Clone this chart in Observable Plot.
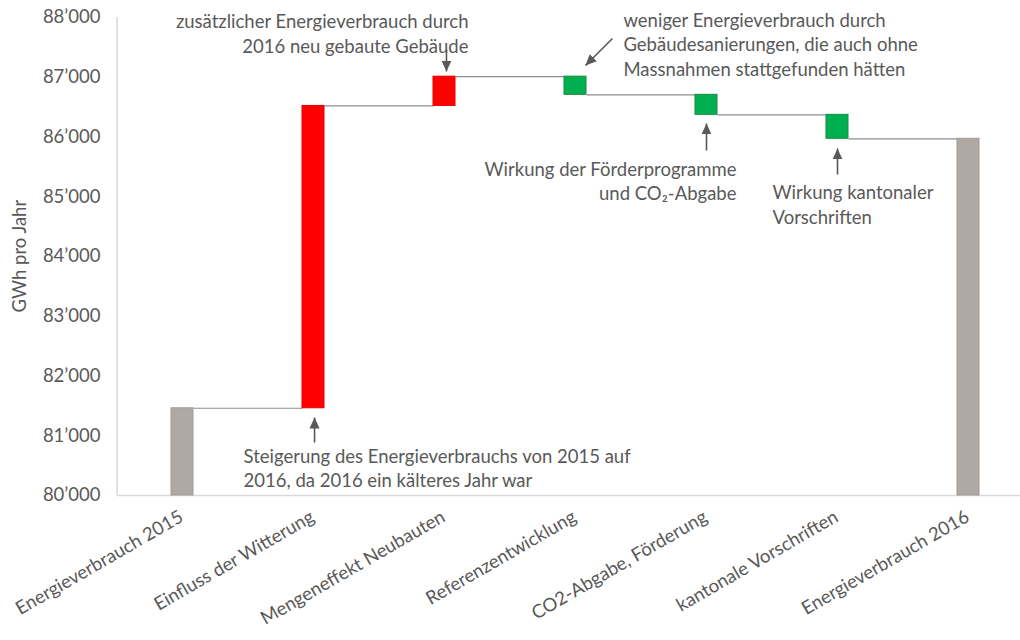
<!DOCTYPE html>
<html>
<head>
<meta charset="utf-8">
<script src="https://cdn.jsdelivr.net/npm/d3@7"></script>
<script src="https://cdn.jsdelivr.net/npm/@observablehq/plot@0.6"></script>
<style>
  html, body { margin: 0; padding: 0; background: #fff; }
  #chart svg { font-family: Lato, "Open Sans", sans-serif; }
</style>
</head>
<body>
<div id="chart"></div>
<script>
// ---- data ----
const categories = ["Energieverbrauch 2015", "Einfluss der Witterung", "Mengeneffekt Neubauten",
  "Referenzentwicklung", "CO2-Abgabe, Förderung", "kantonale Vorschriften", "Energieverbrauch 2016"];
const kinds = ["total", "increase", "increase", "decrease", "decrease", "decrease", "total"];
const amounts = [81460, 5060, 490, -304, -335, -401, 85970];
const yTicks = [80000, 81000, 82000, 83000, 84000, 85000, 86000, 87000, 88000];

const annTexts = [
  "zusätzlicher Energieverbrauch durch\n2016 neu gebaute Gebäude",
  "weniger Energieverbrauch durch\nGebäudesanierungen, die auch ohne\nMassnahmen stattgefunden hätten",
  "Wirkung der Förderprogramme\nund CO₂-Abgabe",
  "Wirkung kantonaler\nVorschriften",
  "Steigerung des Energieverbrauchs von 2015 auf\n2016, da 2016 ein kälteres Jahr war"
];
const annX = [2.183, 3.366, 4.229, 4.504, 0.466];
const annY = [87749, 87565, 85280, 84879, 80477];
const annAnchor = ["end", "start", "end", "start", "start"];

const arrowX1 = [2.015, 3.282, 4.0, 5.0, 1.008];
const arrowY1 = [87464, 87649, 85774, 85372, 80887];
const arrowX2 = [2.015, 3.076, 4.0, 5.0, 1.008];
const arrowY2 = [87096, 87197, 86226, 85808, 81305];

// ---- build table ----
const base = 80000;
let level = 0;
const rows = categories.map((c, i) => {
  let y1, y2;
  if (kinds[i] === "total") { y1 = base; y2 = amounts[i]; level = amounts[i]; }
  else { y1 = level; y2 = level + amounts[i]; level = y2; }
  return {i, c, kind: kinds[i], y1, y2, end: level};
});
const hw = 0.084; // half bar width in band units
const links = rows.slice(0, -1).map((r, k) => ({x1: r.i + hw, x2: rows[k + 1].i - hw, y: r.end}));
const anns = annTexts.map((t, k) => ({t, x: annX[k], y: annY[k], a: annAnchor[k]}));
const arrows = arrowX1.map((x, k) => ({x1: x, y1: arrowY1[k], x2: arrowX2[k], y2: arrowY2[k]}));

const fillOf = {total: "#afa8a3", increase: "#ff0000", decrease: "#00b050"};
const strokeOf = {total: "#a39b96", increase: "#e60000", decrease: "#1a8a40"};

function triHead(color, context) {
  const doc = (context && context.document) || document;
  const ns = "http://www.w3.org/2000/svg";
  const m = doc.createElementNS(ns, "marker");
  m.setAttribute("viewBox", "-6 -6 12 12");
  m.setAttribute("markerWidth", 11);
  m.setAttribute("markerHeight", 11);
  m.setAttribute("markerUnits", "userSpaceOnUse");
  m.setAttribute("orient", "auto");
  m.setAttribute("refX", 6);
  m.setAttribute("refY", 0);
  const p = doc.createElementNS(ns, "path");
  p.setAttribute("d", "M-6,-5.5L6,0L-6,5.5Z");
  p.setAttribute("fill", color);
  p.setAttribute("stroke", "none");
  m.appendChild(p);
  return m;
}

const fmt = v => d3.format(",")(v).replace(/,/g, "’");
const textColor = "#595959";
const fs = 18.5;

const chart = Plot.plot({
  width: 1020,
  height: 640,
  marginTop: 17,
  marginBottom: 145,
  marginLeft: 117,
  marginRight: 0,
  x: {type: "linear", domain: [-0.5, 6.5], range: [116.5, 1033.5], axis: null},
  y: {domain: [80000, 88000], axis: null},
  marks: [
    Plot.ruleY([80000], {stroke: "#d9d9d9", strokeWidth: 1.5}),
    Plot.ruleX([-0.5], {y1: 80000, y2: 88000, stroke: "#d9d9d9", strokeWidth: 1.5}),
    Plot.axisY({ticks: yTicks, tickFormat: fmt, tickSize: 0, tickPadding: 17, fontSize: 18.5, fill: textColor, anchor: "left"}),
    Plot.text(["GWh pro Jahr"], {frameAnchor: "left", rotate: -90, dx: -97, dy: 56, fontSize: 18.5, fill: textColor}),
    Plot.link(links, {x1: "x1", x2: "x2", y1: "y", y2: "y", stroke: "#8c8c8c", strokeWidth: 1.2}),
    Plot.rect(rows, {x1: d => d.i - hw, x2: d => d.i + hw, y1: "y1", y2: "y2",
      fill: d => fillOf[d.kind], stroke: d => strokeOf[d.kind], strokeWidth: 1}),
    Plot.text(rows, {x: "i", text: "c", frameAnchor: "bottom", dy: 25, dx: 2, rotate: -30,
      textAnchor: "end", fontSize: fs, fill: textColor}),
    Plot.text(anns.filter(d => d.a === "end"), {x: "x", y: "y", text: "t", textAnchor: "end", lineHeight: 1.35,
      fontSize: fs, fill: textColor}),
    Plot.text(anns.filter(d => d.a === "start"), {x: "x", y: "y", text: "t", textAnchor: "start", lineHeight: 1.35,
      fontSize: fs, fill: textColor}),
    Plot.link(arrows, {x1: "x1", y1: "y1", x2: "x2", y2: "y2", stroke: "#595959", strokeWidth: 1.6,
      markerEnd: triHead})
  ]
});
document.getElementById("chart").appendChild(chart);
</script>
</body>
</html>
